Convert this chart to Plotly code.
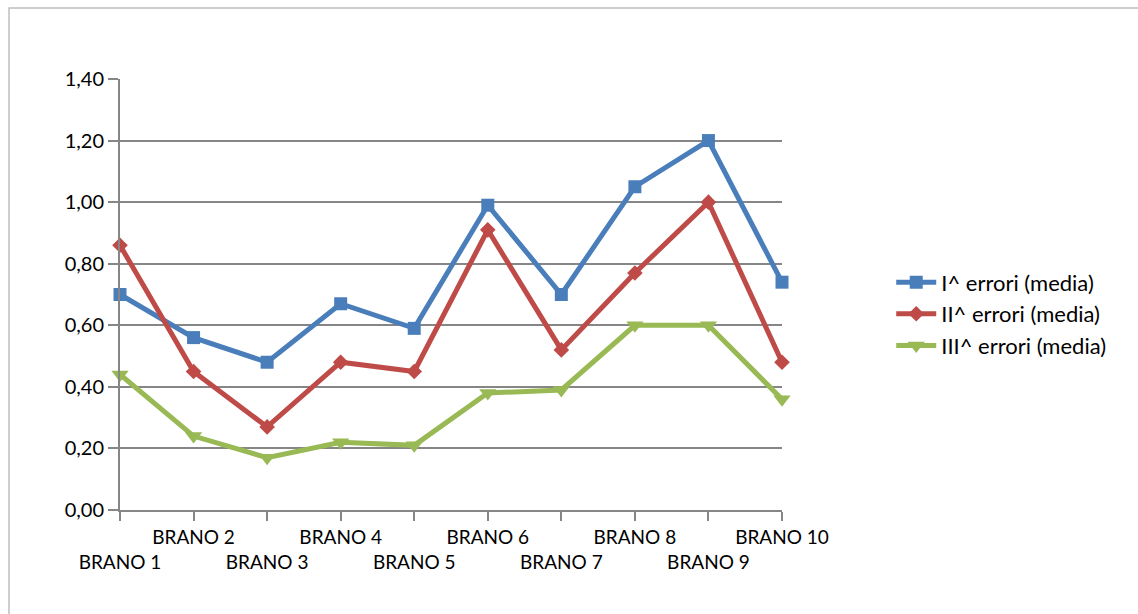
import plotly.graph_objects as go

categories = ["BRANO 1", "BRANO 2", "BRANO 3", "BRANO 4", "BRANO 5",
              "BRANO 6", "BRANO 7", "BRANO 8", "BRANO 9", "BRANO 10"]
serie_1 = [0.70, 0.56, 0.48, 0.67, 0.59, 0.99, 0.70, 1.05, 1.20, 0.74]
serie_2 = [0.86, 0.45, 0.27, 0.48, 0.45, 0.91, 0.52, 0.77, 1.00, 0.48]
serie_3 = [0.44, 0.24, 0.17, 0.22, 0.21, 0.38, 0.39, 0.60, 0.60, 0.36]
names = ["I^ errori (media)", "II^ errori (media)", "III^ errori (media)"]
y_ticks = [0, 0.2, 0.4, 0.6, 0.8, 1.0, 1.2, 1.4]
y_tick_labels = ["0,00", "0,20", "0,40", "0,60", "0,80", "1,00", "1,20", "1,40"]

# staggered category labels (odd ones on the second row)
tick_text = [c if i % 2 == 1 else "<br>" + c for i, c in enumerate(categories)]

FONT = "Lato, 'Open Sans', sans-serif"
colors = ["#4A7EBB", "#BE4B48", "#98B954"]
symbols = ["square", "diamond", "triangle-down"]
msizes = [13, 12, 15]

fig = go.Figure()
for vals, name, col, sym, ms in zip([serie_1, serie_2, serie_3], names, colors, symbols, msizes):
    fig.add_trace(go.Scatter(
        x=categories, y=vals, name=name, mode="lines+markers",
        line=dict(color=col, width=5),
        marker=dict(symbol=sym, size=ms, color=col),
        cliponaxis=False,
    ))

fig.update_layout(
    width=1138, height=614,
    margin=dict(l=120, r=356, t=79, b=104),
    paper_bgcolor="white", plot_bgcolor="white",
    font=dict(family=FONT, size=19, color="black"),
    showlegend=True,
    legend=dict(x=1.165, y=0.455, xanchor="left", yanchor="middle",
                font=dict(size=22), itemwidth=40),
    xaxis=dict(
        type="category", range=[0, 9],
        tickmode="array", tickvals=categories, ticktext=tick_text,
        showgrid=False, showline=True, linecolor="#868686", linewidth=2,
        ticks="outside", ticklen=9, tickcolor="#868686", tickwidth=2,
        tickfont=dict(size=19), tickangle=0,
    ),
    yaxis=dict(
        range=[0, 1.4], tickmode="array", tickvals=y_ticks, ticktext=y_tick_labels,
        showgrid=True, gridcolor="#868686", gridwidth=2,
        showline=True, linecolor="#868686", linewidth=2,
        ticks="outside", ticklen=10, tickcolor="#868686", tickwidth=2,
        tickfont=dict(size=20), zeroline=False,
    ),
    shapes=[dict(type="rect", xref="paper", yref="paper",
                 x0=(9 - 120) / 662, x1=2.0, y0=-1.0, y1=(510 - 8) / 431,
                 line=dict(color="#BFBFBF", width=1.5), fillcolor="rgba(0,0,0,0)",
                 layer="below")],
)

fig.write_html("out.html")
